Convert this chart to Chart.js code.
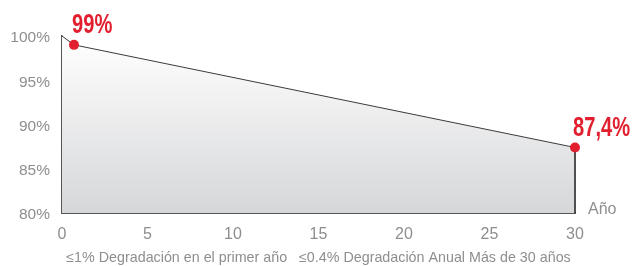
<!DOCTYPE html>
<html>
<head>
<meta charset="utf-8">
<script src="https://cdn.jsdelivr.net/npm/chart.js@4/dist/chart.umd.min.js"></script>
<style>
  html, body { margin: 0; padding: 0; background: #fff; }
  #wrap { width: 636px; height: 266px; }
</style>
</head>
<body>
<div id="wrap"><canvas id="mycanvas"></canvas></div>
<script>
// data
var years = [0, 0.7, 30, 30];
var efficiency = [100, 99, 87.4, 80];
var markedPoints = [1, 2];            // indexes that get a red dot
var markLabels = ['99%', '87,4%'];
var yTicks = [80, 85, 90, 95, 100];
var xTicks = [0, 5, 10, 15, 20, 25, 30];
var xUnit = 'Año';
var caption = '≤1% Degradación en el primer año   ≤0.4% Degradación Anual Más de 30 años';

var red = '#e21f2f';
var grey = '#8e8e8e';

var points = [];
for (var i in years) {
  points.push({ x: years[i], y: efficiency[i] });
}

var radii = years.map(function (v, i) { return markedPoints.indexOf(i) >= 0 ? 5 : 0; });

var extras = {
  id: 'extras',
  afterDatasetsDraw: function (chart) {
    var c = chart.ctx;
    var xs = chart.scales.x, ys = chart.scales.y;
    c.save();
    // red value labels, squeezed to look like a condensed face
    c.fillStyle = red;
    c.font = 'bold 28px "Liberation Sans", Arial, sans-serif';
    c.textAlign = 'left';
    c.textBaseline = 'alphabetic';
    for (var k = 0; k < markedPoints.length; k++) {
      var idx = markedPoints[k];
      var px = xs.getPixelForValue(years[idx]);
      var py = ys.getPixelForValue(efficiency[idx]);
      c.save();
      c.translate(px - 2, py - 12);
      c.scale(0.72, 1);
      c.fillText(markLabels[k], 0, 0);
      c.restore();
    }
    // unit at the end of the x axis
    c.fillStyle = grey;
    c.font = '16px "Liberation Sans", Arial, sans-serif';
    c.textBaseline = 'middle';
    c.fillText(xUnit, chart.chartArea.right + 13, chart.chartArea.bottom - 3);
    // caption below
    c.font = '14.3px "Liberation Sans", Arial, sans-serif';
    c.textAlign = 'center';
    c.fillText(caption, (chart.chartArea.left + chart.chartArea.right) / 2, 258);
    c.restore();
  }
};

var ctx = document.getElementById('mycanvas');

var chart = new Chart(ctx, {
  type: 'line',
  data: {
    datasets: [{
      data: points,
      borderColor: '#3a3a3a',
      borderWidth: 1,
      tension: 0,
      clip: false,
      fill: 'start',
      backgroundColor: function (context) {
        var area = context.chart.chartArea;
        if (!area) return '#e6e6e6';
        var g = context.chart.ctx.createLinearGradient(0, area.top, 0, area.bottom);
        g.addColorStop(0, '#ffffff');
        g.addColorStop(1, '#d6d7d9');
        return g;
      },
      pointRadius: radii,
      pointHoverRadius: radii,
      pointBackgroundColor: red,
      pointBorderColor: red,
      pointBorderWidth: 0
    }]
  },
  options: {
    responsive: true,
    maintainAspectRatio: false,
    animation: false,
    events: [],
    layout: { padding: { top: 36, right: 61, left: 0, bottom: 0 } },
    plugins: {
      legend: { display: false },
      tooltip: { enabled: false }
    },
    scales: {
      x: {
        type: 'linear',
        min: 0,
        max: 30,
        afterFit: function (s) { s.height = 53; },
        afterBuildTicks: function (s) { s.ticks = xTicks.map(function (v) { return { value: v }; }); },
        grid: { display: false, drawTicks: false },
        border: { display: true, color: '#555', width: 2 },
        ticks: {
          color: grey,
          padding: 12,
          maxRotation: 0,
          font: { family: '"Liberation Sans", Arial, sans-serif', size: 16 }
        }
      },
      y: {
        min: 80,
        max: 100,
        afterFit: function (s) { s.width = 62; },
        afterBuildTicks: function (s) { s.ticks = yTicks.map(function (v) { return { value: v }; }); },
        grid: { display: false, drawTicks: false },
        border: { display: true, color: '#555', width: 1.5 },
        ticks: {
          color: grey,
          padding: 12,
          labelOffset: 2,
          font: { family: '"Liberation Sans", Arial, sans-serif', size: 15.5 },
          callback: function (v) { return v + '%'; }
        }
      }
    }
  },
  plugins: [extras]
});
</script>
</body>
</html>
